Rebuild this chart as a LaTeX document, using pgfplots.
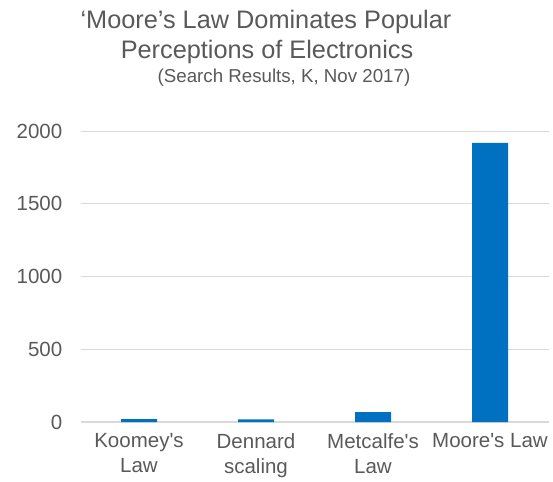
\documentclass[border=0pt]{standalone}
\usepackage{fontspec}
\setmainfont{Liberation Sans}[Ligatures=TeXOff]
\usepackage{pgfplots}
\pgfplotsset{compat=1.18}
\definecolor{barblue}{HTML}{0070C0}
\definecolor{txtgray}{HTML}{595959}
\definecolor{gridgray}{HTML}{D9D9D9}
\begin{document}
\begin{tikzpicture}[x=1pt,y=-1pt]
\path[use as bounding box] (0,0) rectangle (553,481);
\begin{axis}[
  at={(80.5pt,-422pt)}, anchor=south west,
  scale only axis, width=468pt, height=291pt,
  xmin=-0.5, xmax=3.5, ymin=0, ymax=2000,
  xtick=data,
  xticklabels={Koomey\textquotesingle s\\Law, Dennard\\scaling, Metcalfe\textquotesingle s\\Law, Moore\textquotesingle s Law},
  ytick={0,500,1000,1500,2000},
  ymajorgrids, grid style={gridgray, line width=1pt},
  axis line style={draw=none},
  extra y ticks={0}, extra y tick labels={},
  extra y tick style={grid style={gridgray,line width=1.2pt}},
  major tick length=0pt,
  tick label style={font=\fontsize{20.5}{25}\selectfont, text=txtgray},
  xticklabel style={align=center, anchor=north, yshift=-8pt},
  yticklabel style={anchor=east, inner sep=0pt, xshift=-18pt},
  /pgf/number format/assume math mode=true,
  /pgf/number format/1000 sep={},
  ybar, bar width=36pt,
]
\addplot[fill=barblue, draw=none] coordinates {(0,20) (1,18) (2,68) (3,1918)};
\end{axis}
\node[text=txtgray, font=\fontsize{25.3}{30}\selectfont] at (266,22) {‘Moore’s Law Dominates Popular};
\node[text=txtgray, font=\fontsize{25.3}{30}\selectfont] at (267,52) {Perceptions of Electronics};
\node[text=txtgray, font=\fontsize{18.7}{22}\selectfont] at (284,78) {(Search Results, K, Nov 2017)};
\end{tikzpicture}
\end{document}
